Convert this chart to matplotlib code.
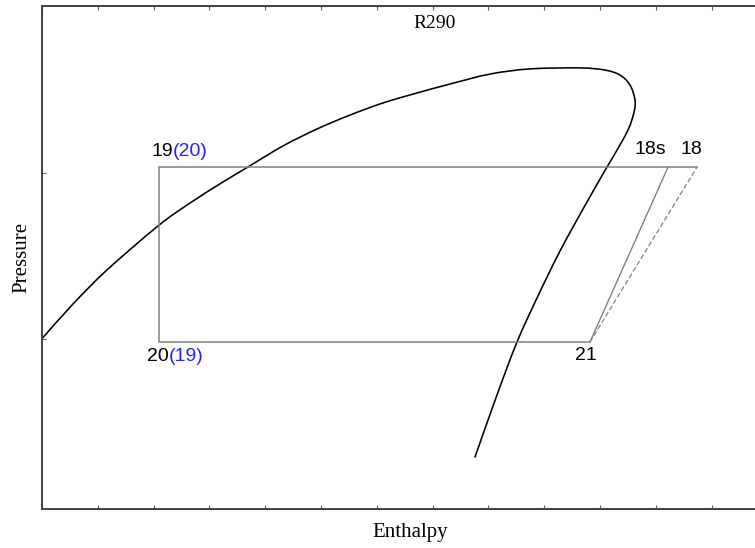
import matplotlib
matplotlib.use("Agg")
import matplotlib.pyplot as plt
from matplotlib.path import Path
from matplotlib.patches import PathPatch

# Saturation dome of R290 (enthalpy / pressure, arbitrary chart units)
dome_h = [0.000, 0.556, 1.165, 2.079, 2.652, 3.244, 3.674, 4.319, 4.928,
          5.520, 6.111, 6.720, 7.312, 8.029, 8.746, 9.642, 10.090, 10.358, 10.538,
          10.627, 10.609, 10.502, 10.233, 10.125, 9.731, 9.283, 8.871, 8.513,
          8.154, 7.760]
dome_p = [1.002, 1.211, 1.416, 1.681, 1.819, 1.946, 2.033, 2.163, 2.265,
          2.349, 2.422, 2.482, 2.536, 2.596, 2.627, 2.633, 2.620, 2.590, 2.530,
          2.440, 2.367, 2.259, 2.096, 2.036, 1.804, 1.530, 1.247, 0.982,
          0.663, 0.289]

# Cycle state points
state_names = ["19", "20", "21", "18s", "18"]
state_h = [2.097, 2.097, 9.82, 11.22, 11.74]
state_p = [2.036, 0.982, 0.982, 2.036, 2.036]
pt = dict(zip(state_names, zip(state_h, state_p)))

fig = plt.figure(figsize=(7.55, 5.48), dpi=100)
W, H = 755, 548
x0_px, x1_px, y0_px, y1_px = 42, 779, 509, 6
ax = fig.add_axes([x0_px / W, (H - y0_px) / H, (x1_px - x0_px) / W, (y0_px - y1_px) / H])

ax.set_xlim(0, (x1_px - x0_px) / 55.8)
ax.set_ylim(1 + (339 - y0_px) / 166, 1 + (339 - y1_px) / 166)


def smooth_path(xs, ys):
    """Catmull-Rom spline through the points, as cubic Bezier segments."""
    pts = list(zip(xs, ys))
    verts = [pts[0]]
    codes = [Path.MOVETO]
    n = len(pts)
    for i in range(n - 1):
        p0 = pts[i - 1] if i > 0 else pts[i]
        p1 = pts[i]
        p2 = pts[i + 1]
        p3 = pts[i + 2] if i + 2 < n else pts[i + 1]
        c1 = (p1[0] + (p2[0] - p0[0]) / 6, p1[1] + (p2[1] - p0[1]) / 6)
        c2 = (p2[0] - (p3[0] - p1[0]) / 6, p2[1] - (p3[1] - p1[1]) / 6)
        verts += [c1, c2, p2]
        codes += [Path.CURVE4] * 3
    return Path(verts, codes)


# Dome
ax.add_patch(PathPatch(smooth_path(dome_h, dome_p), fill=False, edgecolor="black",
                       lw=1.15, capstyle="round", joinstyle="round"))

gray = "#808080"
# Cycle rectangle: 21 -> 20 -> 19 -> 18
path = ["21", "20", "19", "18"]
ax.plot([pt[k][0] for k in path], [pt[k][1] for k in path], color=gray, lw=1.1)
# Isentropic and real compression lines
ax.plot([pt["21"][0], pt["18s"][0]], [pt["21"][1], pt["18s"][1]], color=gray, lw=1.0)
ax.plot([pt["21"][0], pt["18"][0]], [pt["21"][1], pt["18"][1]], color=gray, lw=0.9,
        ls=(0, (4, 2)))

lab_font = dict(family=["Liberation Sans", "DejaVu Sans"], fontsize=14)
blue = "#2222ff"
px = 72 / 100  # pixels -> points


def label(key, main, extra, dx, dy, ha="left"):
    t = ax.annotate(main, xy=pt[key], xytext=(dx * px, dy * px),
                    textcoords="offset points", ha=ha, va="center",
                    color="black", **lab_font)
    if extra:
        ax.annotate(extra, xy=(1, 0.5), xycoords=t, ha="left", va="center",
                    color=blue, **lab_font)
    return t


label("19", "19", "(20)", -8, 16)
label("20", "20", "(19)", -12, -15)
label("21", "21", None, -4, -14, ha="center")
label("18s", "18s", None, -18, 18, ha="center")
label("18", "18", None, -6, 18, ha="center")

# Axes styling
for side in ("left", "bottom", "top"):
    ax.spines[side].set_color("#404040")
    ax.spines[side].set_linewidth(1.4)
ax.spines["right"].set_visible(False)

ax.set_xticks(range(0, 14))
ax.set_yticks([1, 2])
ax.tick_params(axis="both", direction="in", length=3, width=0.8, color="#606060",
               labelbottom=False, labelleft=False, top=True, right=False)

serif = dict(family=["Liberation Serif", "DejaVu Serif"])
ax.set_xlabel("Enthalpy", fontsize=15, labelpad=10, **serif)
ax.set_ylabel("Pressure", fontsize=15, labelpad=8, **serif)
fig.text(435 / W, 1 - 23 / H, "R290", ha="center", va="center", fontsize=14, **serif)

fig.savefig("out.png", dpi=100)
